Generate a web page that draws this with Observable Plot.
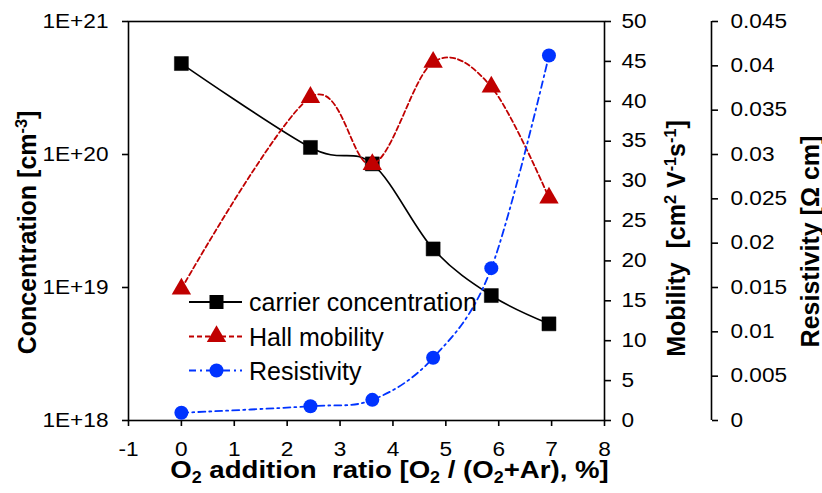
<!DOCTYPE html>
<html><head><meta charset="utf-8">
<script src="https://cdn.jsdelivr.net/npm/d3@7"></script>
<script src="https://cdn.jsdelivr.net/npm/@observablehq/plot@0.6"></script>
<style>
html,body{margin:0;padding:0;background:#fff;}
#chart{position:relative;width:822px;height:493px;font-family:"Liberation Sans",Arial,sans-serif;color:#000;}
#chart svg{position:absolute;left:0;top:0;}
</style></head><body><div id="chart"></div>
<script>
// ---- data ----
const oxygenRatio = [0, 2.44, 3.61, 4.76, 5.86, 6.95];
const carrierConcentration = [4.83e20, 1.13e20, 8.5e19, 1.95e19, 8.7e18, 5.33e18];
const hallMobility = [16.5, 40.5, 32.1, 44.9, 41.8, 27.9];
const resistivity = [0.00087, 0.00161, 0.00233, 0.00707, 0.01718, 0.04116];

const xDomain = [-1, 8];
const xTicks = [-1, 0, 1, 2, 3, 4, 5, 6, 7, 8];
const concentrationDomain = [1e18, 1e21];
const concentrationTicks = [1e18, 1e19, 1e20, 1e21];
const mobilityDomain = [0, 50];
const mobilityTicks = [0, 5, 10, 15, 20, 25, 30, 35, 40, 45, 50];
const resistivityDomain = [0, 0.045];
const resistivityTicks = [0, 0.005, 0.01, 0.015, 0.02, 0.025, 0.03, 0.035, 0.04, 0.045];
const seriesNames = ["carrier concentration", "Hall mobility", "Resistivity"];

const rows = oxygenRatio.map((x, i) => ({
  x, conc: carrierConcentration[i], mob: hallMobility[i], res: resistivity[i]
}));

const BLACK = "#000000", RED = "#C00000", BLUE = "#0033FF";
const FONT = '"Liberation Sans", Arial, sans-serif';
const TICK_FS = 19.5, TICK_SX = 1.16;

const chart = document.getElementById("chart");

function base(y, marks, showX) {
  return Plot.plot({
    width: 822, height: 493,
    marginLeft: 128, marginRight: 218, marginTop: 21, marginBottom: 73,
    style: {background: "transparent", fontFamily: FONT, color: "#000", overflow: "visible"},
    x: {domain: xDomain, axis: showX ? undefined : null},
    y,
    marks
  });
}

// widen a text horizontally along its baseline (the reference's text is drawn wide)
function widen(el, s) {
  const len = el.getComputedTextLength();
  if (len > 0) {
    el.setAttribute("textLength", (len * s).toFixed(2));
    el.setAttribute("lengthAdjust", "spacingAndGlyphs");
  }
}
function stretchTicks(svg, s) {
  d3.select(svg).selectAll('g[aria-label$="tick label"] text').each(function () { widen(this, s); });
}

function richen(svg, key, parts, fs, sx) {
  d3.select(svg).selectAll("text").each(function () {
    if (this.textContent !== key) return;
    const el = d3.select(this);
    el.text(null);
    let shift = 0;
    for (const [txt, kind] of parts) {
      const ts = el.append("tspan").text(txt);
      let target = 0;
      if (kind === "sup") { target = -0.36 * fs; ts.attr("font-size", 0.65 * fs); }
      else if (kind === "sub") { target = 0.22 * fs; ts.attr("font-size", 0.65 * fs); }
      if (target !== shift) { ts.attr("dy", target - shift); shift = target; }
    }
    if (sx) widen(this, sx);
  });
}

const titleOpts = {textAnchor: "middle", lineAnchor: "middle", fontSize: 25, fontWeight: "bold", fill: BLACK};

// ---- Plot A: carrier concentration (log, left) ----
const plotA = base({type: "log", domain: concentrationDomain}, [
  Plot.frame({stroke: BLACK, strokeWidth: 1.6}),
  Plot.axisX({ticks: xTicks, tickSize: 6, tickPadding: 16, fontSize: TICK_FS, strokeWidth: 1.6,
    tickFormat: d => String(d), label: null}),
  Plot.axisY({ticks: concentrationTicks, tickSize: 6, tickPadding: 14, fontSize: TICK_FS, strokeWidth: 1.6,
    tickFormat: d => "1E+" + Math.round(Math.log10(d)), label: null}),
  Plot.line(rows, {x: "x", y: "conc", stroke: BLACK, strokeWidth: 1.6, curve: "catmull-rom", tension: 0}),
  Plot.dot(rows, {x: "x", y: "conc", symbol: "square", r: 7.9, fill: BLACK, stroke: BLACK, strokeWidth: 0.5}),
  Plot.text(["TITLE_CONC"], {...titleOpts, frameAnchor: "left", rotate: -90, dx: -101, dy: 11.5}),
  Plot.text(["TITLE_X"], {...titleOpts, fontSize: 24, frameAnchor: "bottom", dx: 23, dy: 50})
], true);

// ---- Plot B: Hall mobility (right axis) ----
const plotB = base({domain: mobilityDomain}, [
  Plot.axisY({anchor: "right", ticks: mobilityTicks, tickSize: 6, tickPadding: 11, fontSize: TICK_FS, strokeWidth: 1.6,
    tickFormat: d => String(d), label: null}),
  Plot.line(rows, {x: "x", y: "mob", stroke: RED, strokeWidth: 1.8, strokeDasharray: "5 3", curve: "catmull-rom", tension: 0}),
  Plot.dot(rows, {x: "x", y: "mob", symbol: "triangle", r: 7.2, fill: RED}),
  Plot.text(["TITLE_MOB"], {...titleOpts, frameAnchor: "right", rotate: -90, dx: 72, dy: 17.5})
]);

// ---- Plot C: resistivity (outer right axis) ----
const plotC = base({domain: resistivityDomain}, [
  Plot.ruleX([xDomain[1]], {y1: resistivityDomain[0], y2: resistivityDomain[1], dx: 107, stroke: BLACK, strokeWidth: 1.6}),
  Plot.axisY({anchor: "right", dx: 107, ticks: resistivityTicks, tickSize: 6, tickPadding: 13, fontSize: TICK_FS, strokeWidth: 1.6,
    tickFormat: d => String(d), label: null}),
  Plot.line(rows, {x: "x", y: "res", stroke: BLUE, strokeWidth: 1.8, strokeDasharray: "7 4 2 4", curve: "catmull-rom", tension: 0}),
  Plot.dot(rows, {x: "x", y: "res", r: 7, fill: BLUE}),
  Plot.text(["TITLE_RES"], {...titleOpts, frameAnchor: "right", rotate: -90, dx: 206, dy: 20.5})
]);

for (const p of [plotA, plotB, plotC]) chart.appendChild(p);
for (const p of [plotA, plotB, plotC]) stretchTicks(p, TICK_SX);

richen(plotA, "TITLE_CONC", [["Concentration [cm"], ["-3", "sup"], ["]"]], 25);
richen(plotA, "TITLE_X", [["O"], ["2", "sub"], [" addition\u00a0 ratio [O"], ["2", "sub"], [" / (O"], ["2", "sub"], ["+Ar), %]"]], 24, 1.15);
richen(plotB, "TITLE_MOB", [["Mobility\u00a0 [cm"], ["2", "sup"], [" V"], ["-1", "sup"], ["s"], ["-1", "sup"], ["]"]], 25);
richen(plotC, "TITLE_RES", [["Resistivity [\u03A9 cm]"]], 25);

// ---- Legend overlay ----
const legendItems = [
  {name: seriesNames[0], color: BLACK, dash: null, symbol: d3.symbolSquare, size: Math.PI * 7.9 * 7.9},
  {name: seriesNames[1], color: RED, dash: "5 3", symbol: d3.symbolTriangle, size: Math.PI * 7.2 * 7.2},
  {name: seriesNames[2], color: BLUE, dash: "7 4 2 4", symbol: d3.symbolCircle, size: Math.PI * 7 * 7}
];
const leg = d3.select(chart).append("svg").attr("width", 822).attr("height", 493)
  .style("font-family", FONT);
const rowY = [302, 336.5, 370.5];
legendItems.forEach((it, i) => {
  const g = leg.append("g").attr("transform", `translate(189,${rowY[i]})`);
  g.append("line").attr("x1", 0).attr("x2", 53).attr("stroke", it.color).attr("stroke-width", 1.8)
    .attr("stroke-dasharray", it.dash);
  g.append("path").attr("transform", "translate(27.5,0)").attr("d", d3.symbol(it.symbol, it.size)())
    .attr("fill", it.color);
  g.append("text").attr("x", 60).attr("y", 9).attr("font-size", 25).attr("fill", "#000").text(it.name);
});
</script></body></html>
